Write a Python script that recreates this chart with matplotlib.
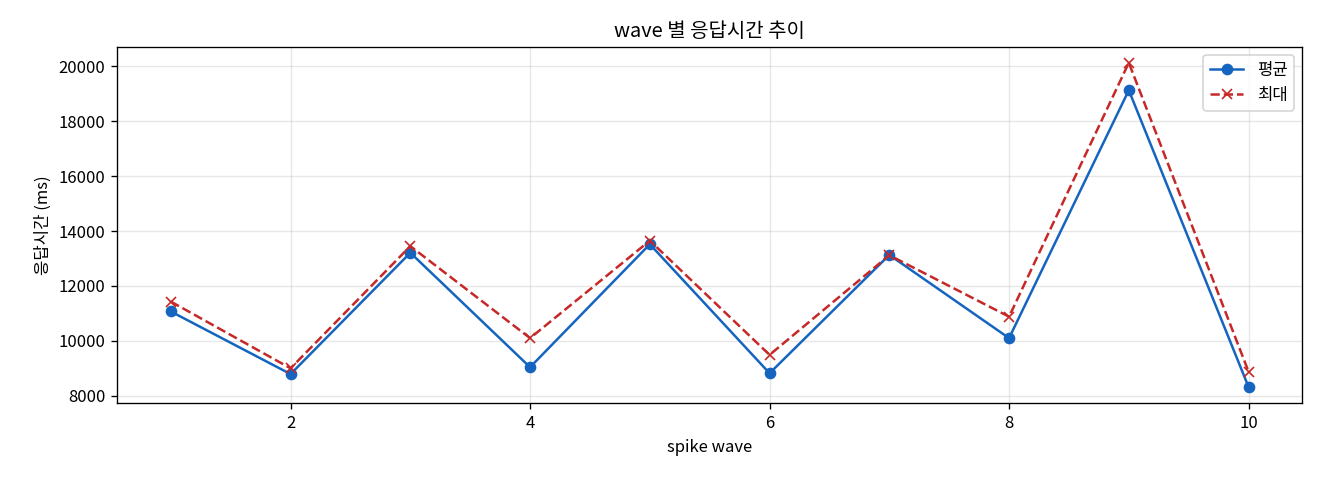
import matplotlib
matplotlib.use("Agg")
import matplotlib.pyplot as plt

plt.rcParams['font.family'] = ['Noto Sans CJK KR', 'DejaVu Sans']
plt.rcParams['axes.unicode_minus'] = False

# spike wave 별 응답시간 (ms)
waves = [1, 2, 3, 4, 5, 6, 7, 8, 9, 10]
avg_ms = [11070, 8790, 13210, 9040, 13520, 8820, 13130, 10100, 19130, 8320]
max_ms = [11430, 9000, 13450, 10100, 13650, 9490, 13120, 10880, 20130, 8880]

fig, ax = plt.subplots(figsize=(11, 4), dpi=120)
ax.plot(waves, avg_ms, marker='o', color='#1565C0', label='평균')
ax.plot(waves, max_ms, marker='x', linestyle='--', color='#C62828', label='최대')

ax.set_title('wave 별 응답시간 추이')
ax.set_xlabel('spike wave')
ax.set_ylabel('응답시간 (ms)')
ax.grid(True, alpha=0.3)
ax.legend(loc='upper right')

fig.subplots_adjust(left=0.0886, right=0.9867, top=0.903, bottom=0.160)
fig.savefig('out.png')
